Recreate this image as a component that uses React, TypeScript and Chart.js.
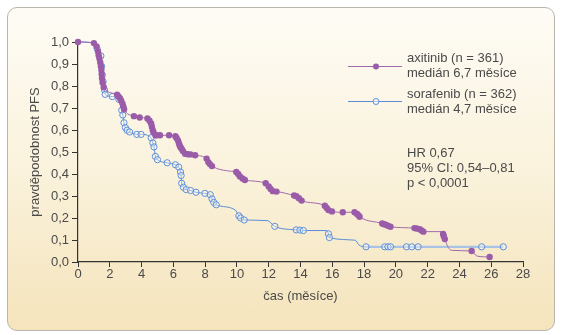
import React, { useEffect, useRef } from "react";
import { Chart, registerables } from "chart.js";

Chart.register(...registerables);

// Axitinib (months, PFS probability, censor mark 1/0)
const axiMonths = [0, 1.0, 1.17, 1.26, 1.3, 1.35, 1.4, 1.44, 1.47, 1.49, 1.51, 1.55, 1.62, 2.46, 2.55, 2.64, 2.72, 2.8, 2.85, 2.9, 3.52, 3.88, 4.37, 4.5, 4.6, 4.65, 4.7, 4.75, 4.87, 4.95, 5.16, 5.73, 6.13, 6.2, 6.29, 6.35, 6.4, 6.45, 6.52, 6.6, 6.74, 6.9, 7.08, 7.37, 8.09, 8.2, 8.3, 8.43, 9.56, 9.96, 10.08, 10.19, 10.35, 10.5, 11.81, 12.0, 12.12, 12.26, 12.49, 13.6, 13.74, 13.9, 14.07, 15.53, 15.65, 15.76, 15.98, 16.66, 17.4, 17.56, 17.65, 17.72, 19.14, 19.25, 19.36, 19.5, 19.66, 21.17, 21.3, 21.5, 21.62, 21.73, 22.86, 22.97, 23.02, 23.08, 23.3, 23.5, 24.77, 25.1, 25.9];
const axiPFS = [1.0, 0.995, 0.98, 0.957, 0.94, 0.925, 0.907, 0.89, 0.873, 0.855, 0.835, 0.815, 0.794, 0.76, 0.752, 0.744, 0.733, 0.72, 0.707, 0.694, 0.663, 0.657, 0.652, 0.642, 0.63, 0.615, 0.6, 0.59, 0.576, 0.576, 0.576, 0.576, 0.572, 0.564, 0.553, 0.54, 0.53, 0.522, 0.515, 0.505, 0.492, 0.49, 0.489, 0.485, 0.47, 0.454, 0.445, 0.436, 0.413, 0.409, 0.4, 0.389, 0.38, 0.373, 0.358, 0.343, 0.332, 0.322, 0.32, 0.302, 0.299, 0.29, 0.279, 0.256, 0.246, 0.236, 0.23, 0.226, 0.226, 0.218, 0.212, 0.206, 0.175, 0.172, 0.169, 0.165, 0.16, 0.154, 0.152, 0.149, 0.143, 0.138, 0.138, 0.127, 0.117, 0.104, 0.066, 0.053, 0.05, 0.027, 0.023];
const axiCensor = [1, 1, 1, 1, 1, 1, 1, 1, 1, 1, 1, 1, 1, 1, 1, 1, 1, 1, 1, 1, 1, 1, 1, 1, 1, 1, 1, 1, 1, 1, 1, 1, 1, 1, 1, 1, 1, 1, 1, 1, 1, 1, 1, 1, 1, 1, 1, 1, 0, 1, 1, 1, 1, 1, 1, 1, 1, 1, 1, 1, 1, 1, 1, 1, 1, 1, 1, 1, 1, 1, 1, 1, 1, 1, 1, 1, 1, 1, 1, 1, 1, 1, 0, 1, 1, 1, 0, 0, 1, 0, 1];

// Sorafenib
const sorMonths = [0, 0.8, 1.04, 1.2, 1.44, 1.49, 1.53, 1.58, 1.67, 1.71, 2.16, 2.57, 2.75, 2.82, 2.89, 2.98, 3.09, 3.25, 3.7, 3.97, 4.6, 4.71, 4.78, 4.87, 5.0, 5.61, 6.13, 6.34, 6.45, 6.49, 6.52, 6.63, 6.81, 7.08, 7.42, 7.98, 8.32, 8.43, 8.54, 8.7, 9.9, 10.12, 10.23, 10.46, 11.92, 12.38, 13.73, 13.96, 14.18, 15.64, 15.76, 15.82, 17.45, 17.67, 18.12, 19.3, 19.5, 19.67, 20.67, 21.0, 21.4, 25.4, 26.76];
const sorPFS = [1.0, 0.998, 0.988, 0.97, 0.937, 0.889, 0.85, 0.82, 0.782, 0.762, 0.752, 0.739, 0.69, 0.668, 0.633, 0.611, 0.599, 0.591, 0.58, 0.58, 0.565, 0.541, 0.523, 0.48, 0.465, 0.451, 0.442, 0.431, 0.409, 0.393, 0.358, 0.34, 0.329, 0.325, 0.317, 0.312, 0.306, 0.287, 0.271, 0.26, 0.236, 0.21, 0.2, 0.191, 0.188, 0.162, 0.146, 0.145, 0.143, 0.143, 0.128, 0.111, 0.099, 0.078, 0.069, 0.069, 0.069, 0.069, 0.069, 0.069, 0.069, 0.069, 0.069];
const sorCensor = [0, 0, 0, 1, 1, 1, 1, 1, 1, 1, 1, 1, 1, 1, 1, 1, 1, 1, 1, 1, 1, 1, 1, 1, 1, 1, 1, 1, 1, 1, 1, 1, 1, 1, 1, 1, 1, 1, 1, 1, 0, 1, 1, 1, 0, 1, 1, 1, 1, 0, 1, 1, 0, 0, 1, 1, 1, 1, 1, 1, 1, 1, 1];

const xTicks = [0, 2, 4, 6, 8, 10, 12, 14, 16, 18, 20, 22, 24, 26, 28];
const yTicks = [0, 0.1, 0.2, 0.3, 0.4, 0.5, 0.6, 0.7, 0.8, 0.9, 1.0];

const legendLines = [
  ["axitinib (n = 361)", "medián 6,7 měsíce"],
  ["sorafenib (n = 362)", "medián 4,7 měsíce"],
];
const statsLines = ["HR 0,67", "95% CI: 0,54–0,81", "p < 0,0001"];

const FONT = "'Liberation Sans', Arial, sans-serif";
const TEXT = "#4a4a4a";
const PURPLE = "#9a5ca8";
const PURPLE_LINE = "#a06aad";
const BLUE = "#5b8dd8";
const BLUE_TAIL = "#a9c3e6";

const annotationPlugin = {
  id: "kmAnnot",
  afterDraw(chart: any) {
    const ctx = chart.ctx;
    ctx.save();
    ctx.font = `13px ${FONT}`;
    ctx.fillStyle = TEXT;
    ctx.textBaseline = "middle";
    ctx.textAlign = "left";
    const lx0 = 348, lx1 = 402, mx = 376, tx = 407;
    // axitinib
    ctx.strokeStyle = PURPLE_LINE;
    ctx.lineWidth = 1;
    ctx.beginPath(); ctx.moveTo(lx0, 66.5); ctx.lineTo(lx1, 66.5); ctx.stroke();
    ctx.fillStyle = PURPLE;
    ctx.beginPath(); ctx.arc(mx, 66.5, 3, 0, Math.PI * 2); ctx.fill();
    ctx.fillStyle = TEXT;
    ctx.fillText(legendLines[0][0], tx, 58.5);
    ctx.fillText(legendLines[0][1], tx, 73.5);
    // sorafenib
    ctx.strokeStyle = BLUE;
    ctx.beginPath(); ctx.moveTo(lx0, 101.5); ctx.lineTo(lx1, 101.5); ctx.stroke();
    ctx.fillStyle = "rgba(255,255,255,0.5)";
    ctx.beginPath(); ctx.arc(mx, 101.5, 3, 0, Math.PI * 2); ctx.fill(); ctx.stroke();
    ctx.fillStyle = TEXT;
    ctx.fillText(legendLines[1][0], tx, 94.5);
    ctx.fillText(legendLines[1][1], tx, 109.5);
    statsLines.forEach((s, i) => ctx.fillText(s, tx, 153 + i * 15));
    ctx.restore();
  },
};

export default function App() {
  const ref = useRef<HTMLCanvasElement | null>(null);
  useEffect(() => {
    if (!ref.current) return;
    const chart = new Chart(ref.current, {
      type: "line",
      data: {
        datasets: [
          {
            label: "axitinib",
            data: axiMonths.map((m, i) => ({ x: m, y: axiPFS[i] })),
            borderColor: PURPLE_LINE,
            borderWidth: 1,
            cubicInterpolationMode: "monotone",
            pointRadius: axiCensor.map((c) => (c ? 3.2 : 0)),
            pointBackgroundColor: PURPLE,
            pointBorderColor: PURPLE,
            pointBorderWidth: 0,
            clip: false,
          } as any,
          {
            label: "sorafenib",
            data: sorMonths.map((m, i) => ({ x: m, y: sorPFS[i] })),
            borderColor: BLUE,
            borderWidth: 1,
            cubicInterpolationMode: "monotone",
            segment: {
              borderColor: (c: any) => (c.p0.parsed.x >= 18 ? BLUE_TAIL : BLUE),
              borderWidth: (c: any) => (c.p0.parsed.x >= 18 ? 2.2 : 1),
            },
            pointRadius: sorCensor.map((c) => (c ? 3.1 : 0)),
            pointBackgroundColor: "rgba(255,255,255,0.35)",
            pointBorderColor: BLUE,
            pointBorderWidth: 1,
            clip: false,
          } as any,
        ],
      },
      options: {
        responsive: false,
        animation: false,
        devicePixelRatio: 1,
        layout: { padding: { left: 0, top: 42, right: 39, bottom: 0 } },
        plugins: { legend: { display: false }, tooltip: { enabled: false } },
        scales: {
          x: {
            type: "linear",
            min: 0,
            max: 28,
            afterFit: (s: any) => { s.height = 73; },
            afterBuildTicks: (s: any) => { s.ticks = xTicks.map((v) => ({ value: v })); },
            ticks: { color: TEXT, font: { family: FONT, size: 13 }, padding: 0, maxRotation: 0, autoSkip: false },
            grid: { drawOnChartArea: false, drawTicks: true, tickLength: 5, color: "#333" },
            border: { color: "#333", width: 1.2 },
            title: { display: true, text: "čas (měsíce)", color: TEXT, font: { family: FONT, size: 13 }, padding: { top: 0, bottom: 31 } },
          },
          y: {
            type: "linear",
            min: 0,
            max: 1,
            afterFit: (s: any) => { s.width = 78; },
            afterBuildTicks: (s: any) => { s.ticks = yTicks.map((v) => ({ value: v })); },
            ticks: {
              color: TEXT,
              font: { family: FONT, size: 13 },
              padding: 3,
              autoSkip: false,
              callback: (v: any) => Number(v).toFixed(1).replace(".", ","),
            },
            grid: { drawOnChartArea: false, drawTicks: true, tickLength: 6, color: "#333" },
            border: { color: "#333", width: 1.2 },
            title: { display: true, text: "pravděpodobnost PFS", color: TEXT, font: { family: FONT, size: 13 }, padding: { top: 28, bottom: 0 } },
          },
        },
      },
      plugins: [annotationPlugin],
    } as any);
    return () => chart.destroy();
  }, []);

  return (
    <div style={{ position: "fixed", left: 0, top: 0, width: 562, height: 335 }}>
      <div
        style={{
          position: "absolute",
          left: 7,
          top: 7,
          width: 546,
          height: 322,
          border: "1px solid #b9b4ac",
          borderRadius: 10,
          background: "linear-gradient(to bottom, #fefcf6 0%, #faf2dc 50%, #f5e4bc 100%)",
        }}
      />
      <canvas ref={ref} width={562} height={335} style={{ position: "absolute", left: 0, top: 0 }} />
    </div>
  );
}
